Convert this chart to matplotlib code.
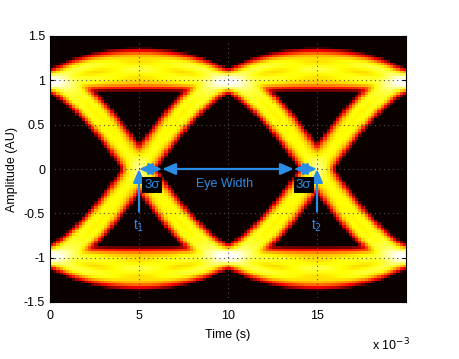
import itertools
import numpy as np
import matplotlib
matplotlib.use("Agg")
import matplotlib.pyplot as plt

plt.rcParams['font.family'] = ['Liberation Sans', 'DejaVu Sans']

# signal description
bit_levels = [-1.0, 1.0]
bit_period = 10e-3
rolloff = 0.7
bit_offsets = [-2, -1, 0, 1, 2, 3, 4]
noise_amp = 0.045         # vertical spread of the traces (AU)
jitter_cols = 0.9         # horizontal spread (image columns)

# annotation values
crossings = [5.0e-3, 15.0e-3]
three_sigma = 1.3e-3
eye_width_label = "Eye Width"
sigma_label = "3σ"

# image grid
t_min, t_max = 0.0, 20e-3
a_min, a_max = -1.5, 1.5
nx, ny, nsub = 112, 100, 4

xticks = [0, 5e-3, 10e-3, 15e-3]
xticklabels = ["0", "5", "10", "15"]
yticks = [-1.5, -1, -0.5, 0, 0.5, 1, 1.5]
yticklabels = ["-1.5", "-1", "-0.5", "0", "0.5", "1", "1.5"]


def pulse(t):
    x = t / bit_period
    den = 1 - (2 * rolloff * x) ** 2
    safe = np.where(np.abs(den) < 1e-6, 1.0, den)
    p = np.sinc(x) * np.cos(np.pi * rolloff * x) / safe
    lim = np.pi / 4 * np.sinc(1 / (2 * rolloff))
    return np.where(np.abs(den) < 1e-6, lim, p)


t = np.linspace(t_min, t_max, nx * nsub)
yc = np.linspace(a_min, a_max, ny)
dens = np.zeros((ny, nx * nsub))
for bits in itertools.product(bit_levels, repeat=len(bit_offsets)):
    s = np.zeros_like(t)
    for a, k in zip(bits, bit_offsets):
        s += a * pulse(t - k * bit_period)
    dens += np.exp(-(yc[:, None] - s[None, :]) ** 2 / (2 * noise_amp ** 2))
dens = dens.reshape(ny, nx, nsub).mean(axis=2)

# time jitter blur along columns
kx = np.arange(-5, 6)
kern = np.exp(-kx ** 2 / (2 * jitter_cols ** 2))
kern /= kern.sum()
dens = np.array([np.convolve(np.pad(r, 5, mode='edge'), kern, mode='valid') for r in dens])

hi = np.log10(np.quantile(dens, 0.997))
lo = hi - 2.5
img = np.clip((np.log10(dens + 1e-12) - lo) / (hi - lo), 0, 1)

fig = plt.figure(figsize=(4.6, 3.59), dpi=100)
ax = fig.add_axes([50 / 460, 57 / 359, 356 / 460, 266 / 359])
ax.imshow(img, cmap='hot', origin='lower', aspect='auto', interpolation='nearest',
          extent=[t_min, t_max, a_min, a_max], vmin=0, vmax=1)
ax.set_xlim(t_min, t_max)
ax.set_ylim(a_min, a_max)
ax.set_xticks(xticks)
ax.set_xticklabels(xticklabels)
ax.set_yticks(yticks)
ax.set_yticklabels(yticklabels)
ax.tick_params(direction='in', length=3, labelsize=9, top=True, right=True)
ax.tick_params(axis='x', pad=6)
ax.grid(True, color='0.3', linestyle=(0, (1, 3)), linewidth=0.8)
ax.set_xlabel("Time (s)", fontsize=9, labelpad=5)
ax.set_ylabel("Amplitude (AU)", fontsize=9, labelpad=4)
ax.text(0.905, -0.16, r"x 10$^{-3}$", transform=ax.transAxes, fontsize=9,
        ha='left', va='center')

blue = '#2a8ce4'
arr = dict(color=blue, lw=1.6, shrinkA=0, shrinkB=0,
           mutation_scale=10)
t1, t2 = crossings
for tc, lab in zip(crossings, ["1", "2"]):
    ax.annotate("", xy=(tc, 0.0), xytext=(tc, -0.48),
                arrowprops=dict(arrowstyle='-|>,head_length=0.8,head_width=0.35', **arr))
    ax.text(tc, -0.64, "t$_{" + lab + "}$", color=blue, fontsize=10, ha='center', va='center')
segments = [(t1, t1 + three_sigma), (t1 + three_sigma, t2 - three_sigma), (t2 - three_sigma, t2)]
for a, b in segments:
    ax.annotate("", xy=(b, 0.0), xytext=(a, 0.0),
                arrowprops=dict(arrowstyle='<|-|>,head_length=0.8,head_width=0.35', **arr))
ax.text(t1 + three_sigma / 2 + 0.1e-3, -0.18, sigma_label, color=blue, fontsize=9.5,
        ha='center', va='center', bbox=dict(facecolor='black', edgecolor='none', pad=1.5))
ax.text(t2 - three_sigma / 2 - 0.1e-3, -0.18, sigma_label, color=blue, fontsize=9.5,
        ha='center', va='center', bbox=dict(facecolor='black', edgecolor='none', pad=1.5))
ax.text((t1 + t2) / 2 - 0.2e-3, -0.17, eye_width_label, color=blue, fontsize=9,
        ha='center', va='center')

fig.savefig("out.png", dpi=100)
